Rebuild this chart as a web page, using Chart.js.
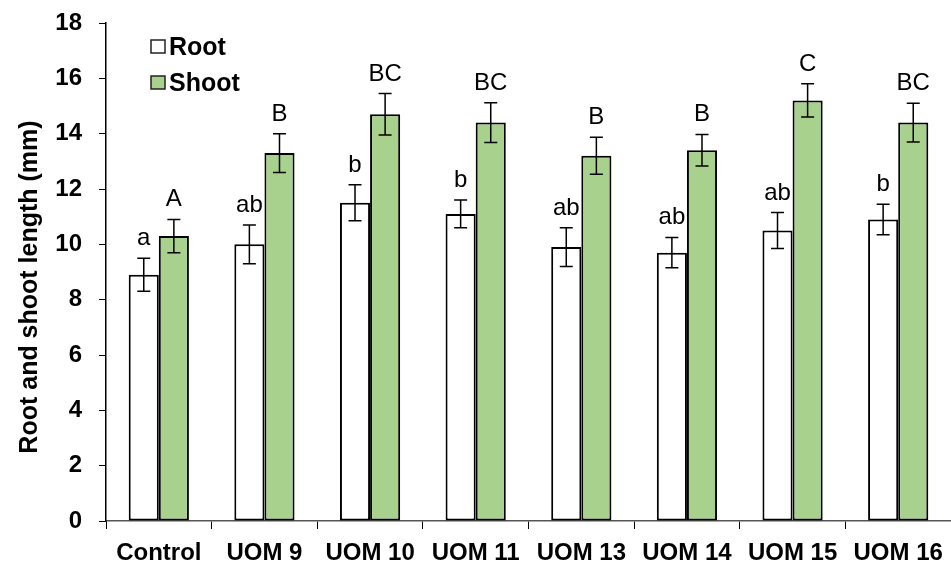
<!DOCTYPE html>
<html>
<head>
<meta charset="utf-8">
<script src="https://cdn.jsdelivr.net/npm/chart.js@4.4.1/dist/chart.umd.min.js"></script>
<style>
  html, body { margin: 0; padding: 0; background: #fff; }
  #wrap { width: 951px; height: 563px; }
</style>
</head>
<body>
<div id="wrap"><canvas id="c" width="951" height="563"></canvas></div>
<script>
const categories = ["Control", "UOM 9", "UOM 10", "UOM 11", "UOM 13", "UOM 14", "UOM 15", "UOM 16"];
const rootMean = [8.9, 10.0, 11.5, 11.1, 9.9, 9.7, 10.5, 10.9];
const rootErr = [0.6, 0.7, 0.65, 0.5, 0.7, 0.55, 0.65, 0.55];
const shootMean = [10.3, 13.3, 14.7, 14.4, 13.2, 13.4, 15.2, 14.4];
const shootErr = [0.6, 0.7, 0.75, 0.72, 0.67, 0.57, 0.6, 0.7];
const rootLetters = ["a", "ab", "b", "b", "ab", "ab", "ab", "b"];
const shootLetters = ["A", "B", "BC", "BC", "B", "B", "C", "BC"];
const yTicks = [0, 2, 4, 6, 8, 10, 12, 14, 16, 18];

const FONT = "'Liberation Sans', Arial, sans-serif";
const GREEN = "#a9d18e";
const errs = [rootErr, shootErr];
const letters = [rootLetters, shootLetters];

// error bars + significance letters
const errorBars = {
  id: "errorBars",
  afterDatasetsDraw(chart) {
    const ctx = chart.ctx;
    const y = chart.scales.y;
    ctx.save();
    chart.data.datasets.forEach((ds, di) => {
      chart.getDatasetMeta(di).data.forEach((bar, i) => {
        const v = ds.data[i], e = errs[di][i];
        const top = y.getPixelForValue(v + e);
        const bot = y.getPixelForValue(v - e);
        ctx.strokeStyle = "#000";
        ctx.lineWidth = 1.5;
        ctx.beginPath();
        ctx.moveTo(bar.x, top); ctx.lineTo(bar.x, bot);
        ctx.moveTo(bar.x - 6.5, top); ctx.lineTo(bar.x + 6.5, top);
        ctx.moveTo(bar.x - 6.5, bot); ctx.lineTo(bar.x + 6.5, bot);
        ctx.stroke();
        ctx.fillStyle = "#000";
        ctx.font = "24px " + FONT;
        ctx.textAlign = "center";
        ctx.textBaseline = "alphabetic";
        ctx.fillText(letters[di][i], bar.x, top - 13);
      });
    });
    ctx.restore();
  },
  afterDraw(chart) {
    const ctx = chart.ctx;
    ctx.save();
    // legend
    ctx.lineWidth = 1.5;
    ctx.strokeStyle = "#222";
    ctx.fillStyle = "#fff";
    ctx.fillRect(151, 40, 14, 13); ctx.strokeRect(151, 40, 14, 13);
    ctx.fillStyle = GREEN;
    ctx.fillRect(151, 76, 14, 13); ctx.strokeRect(151, 76, 14, 13);
    ctx.fillStyle = "#000";
    ctx.font = "bold 25px " + FONT;
    ctx.textAlign = "left";
    ctx.textBaseline = "alphabetic";
    ctx.fillText("Root", 169, 55);
    ctx.fillText("Shoot", 169, 91);
    // y axis title
    ctx.translate(30, 287);
    ctx.rotate(-Math.PI / 2);
    ctx.textAlign = "center";
    ctx.textBaseline = "middle";
    ctx.fillText("Root and shoot length (mm)", 0, 0);
    ctx.restore();
  }
};

new Chart(document.getElementById("c"), {
  type: "bar",
  data: {
    labels: categories,
    datasets: [
      { label: "Root", data: rootMean, backgroundColor: "#fff", borderColor: "#000", borderWidth: 2, borderSkipped: false },
      { label: "Shoot", data: shootMean, backgroundColor: GREEN, borderColor: "#000", borderWidth: 2, borderSkipped: false }
    ]
  },
  options: {
    responsive: false,
    animation: false,
    layout: { padding: { top: 23, right: 0, left: 0, bottom: 0 } },
    categoryPercentage: 0.57,
    barPercentage: 1.0,
    plugins: { legend: { display: false }, tooltip: { enabled: false } },
    scales: {
      x: {
        grid: { offset: true, drawOnChartArea: false, drawTicks: true, tickLength: 8, color: "#000", lineWidth: 1 },
        border: { color: "#555", width: 1.5 },
        ticks: { color: "#000", font: { family: FONT, size: 24, weight: "bold" }, padding: 10, maxRotation: 0, autoSkip: false },
        afterFit(s) { s.height = 42; s.paddingLeft = 0; s.paddingRight = 0; }
      },
      y: {
        min: 0, max: 18,
        afterBuildTicks(s) { s.ticks = yTicks.map(v => ({ value: v })); },
        grid: { drawOnChartArea: false, drawTicks: true, tickLength: 7, color: "#000" },
        border: { color: "#000", width: 1.5 },
        ticks: { color: "#000", font: { family: FONT, size: 24, weight: "bold" }, padding: 17 },
        afterFit(s) { s.width = 106; s.paddingTop = 0; s.paddingBottom = 0; }
      }
    }
  },
  plugins: [errorBars]
});
</script>
</body>
</html>
